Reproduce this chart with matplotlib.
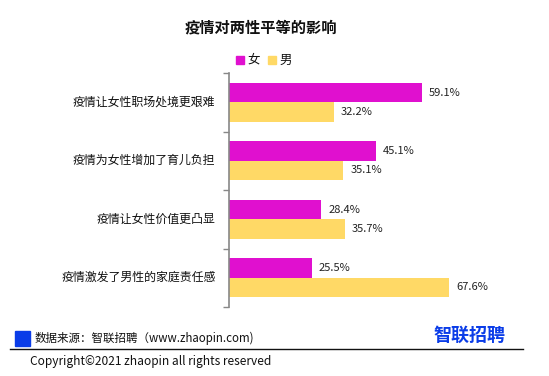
import numpy as np
import matplotlib.pyplot as plt
from matplotlib.patches import Rectangle
from matplotlib.lines import Line2D

plt.rcParams['font.family'] = ['Noto Sans CJK SC', 'DejaVu Sans']

# data
categories = ['疫情让女性职场处境更艰难', '疫情为女性增加了育儿负担',
              '疫情让女性价值更凸显', '疫情激发了男性的家庭责任感']
female = [59.1, 45.1, 28.4, 25.5]
male = [32.2, 35.1, 35.7, 67.6]
series_names = ['女', '男']
title = '疫情对两性平等的影响'
source_text = '数据来源：智联招聘（www.zhaopin.com)'
copyright_text = 'Copyright©2021 zhaopin all rights reserved'

c_female = '#E010CF'
c_male = '#FFD966'
c_blue = '#0A3CE8'

W, H = 549, 376
fig = plt.figure(figsize=(W / 100, H / 100), dpi=100)

# axes placed in pixel coordinates
x0, x1 = 228.7, 522.6
y_top, y_bot = 73, 307
ax = fig.add_axes([x0 / W, 1 - y_bot / H, (x1 - x0) / W, (y_bot - y_top) / H])

n = len(categories)
y = np.arange(n)
bh = 0.333
ax.barh(y - bh / 2, female, height=bh, color=c_female, label=series_names[0])
ax.barh(y + bh / 2, male, height=bh, color=c_male, label=series_names[1])
ax.set_ylim(n - 0.5, -0.5)
ax.set_xlim(0, 90)

for i in range(n):
    ax.text(female[i] + 2.1, y[i] - bh / 2, f'{female[i]:.1f}%', va='center',
            ha='left', fontsize=8, color='#222222')
    ax.text(male[i] + 2.1, y[i] + bh / 2, f'{male[i]:.1f}%', va='center',
            ha='left', fontsize=8, color='#222222')

for s in ['top', 'right', 'bottom']:
    ax.spines[s].set_visible(False)
ax.spines['left'].set_color('#888888')
ax.spines['left'].set_linewidth(1.2)
ax.set_xticks([])
ax.set_yticks(np.arange(-0.5, n + 0.5, 1))
ax.set_yticklabels([])
ax.tick_params(axis='y', length=4, width=1, color='#888888')
for i, cat in enumerate(categories):
    ax.text(-0.045, y[i], cat, transform=ax.get_yaxis_transform(),
            ha='right', va='center', fontsize=8.6, color='#111111')

# title
fig.text(260.5 / W, 1 - 27 / H, title, ha='center', va='center',
         fontsize=11, fontweight='bold', color='#111111')

# legend
fig.patches.append(Rectangle((236 / W, 1 - 63.5 / H), 7.5 / W, 7.5 / H,
                             transform=fig.transFigure, color=c_female))
fig.text(247 / W, 1 - 60 / H, series_names[0], ha='left', va='center',
         fontsize=9, color='#111111')
fig.patches.append(Rectangle((268 / W, 1 - 63.5 / H), 7.5 / W, 7.5 / H,
                             transform=fig.transFigure, color=c_male))
fig.text(279 / W, 1 - 60 / H, series_names[1], ha='left', va='center',
         fontsize=9, color='#111111')

# footer
fig.patches.append(Rectangle((15 / W, 1 - 346 / H), 15 / W, 15 / H,
                             transform=fig.transFigure, color=c_blue))
fig.text(35 / W, 1 - 338 / H, source_text, ha='left', va='center',
         fontsize=8.3, color='#111111')
fig.text(469 / W, 1 - 335 / H, '智联招聘', ha='center', va='center',
         fontsize=13, fontweight='bold', color=c_blue)
fig.lines.append(Line2D([10 / W, 523 / W], [1 - 348.5 / H, 1 - 348.5 / H],
                        transform=fig.transFigure, color='#111111', lw=1))
fig.text(30 / W, 1 - 361 / H, copyright_text, ha='left', va='center',
         fontsize=8.6, color='#111111')

fig.savefig('out.png', dpi=100)
